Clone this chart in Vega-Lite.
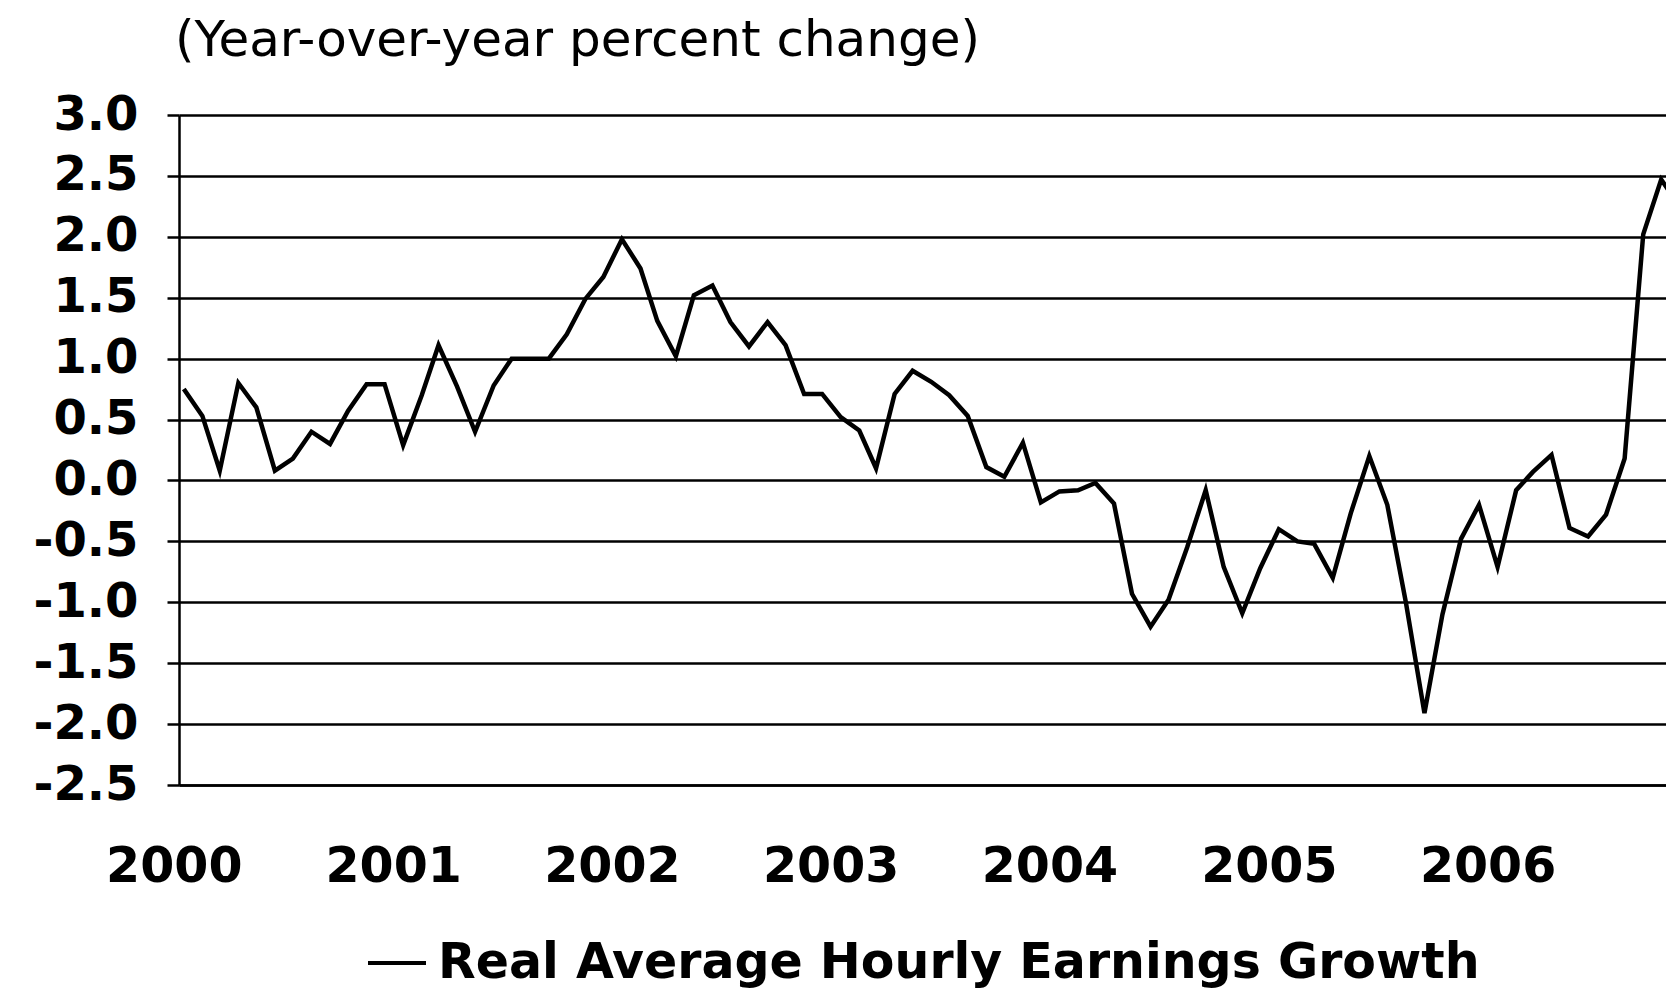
{
  "$schema": "https://vega.github.io/schema/vega-lite/v6.json",
  "width": 1487,
  "height": 670,
  "autosize": {"type": "none"},
  "padding": {"left": 179, "top": 115, "right": 0, "bottom": 204},
  "background": "white",
  "title": {
    "text": "(Year-over-year percent change)",
    "anchor": "start",
    "frame": "group",
    "font": "DejaVu Sans",
    "fontSize": 50,
    "fontWeight": "normal",
    "color": "black",
    "baseline": "alphabetic",
    "offset": -15,
    "dx": -4
  },
  "config": {
    "view": {"stroke": null},
    "font": "DejaVu Sans",
    "legend": {"layout": {"anchor": "middle", "bottom": {"anchor": "middle"}}}
  },
  "data": {
    "values": [
      {"date": "2000-01-01", "value": 0.75},
      {"date": "2000-02-01", "value": 0.53},
      {"date": "2000-03-01", "value": 0.08},
      {"date": "2000-04-01", "value": 0.80},
      {"date": "2000-05-01", "value": 0.60},
      {"date": "2000-06-01", "value": 0.08},
      {"date": "2000-07-01", "value": 0.18},
      {"date": "2000-08-01", "value": 0.40},
      {"date": "2000-09-01", "value": 0.30},
      {"date": "2000-10-01", "value": 0.57},
      {"date": "2000-11-01", "value": 0.79},
      {"date": "2000-12-01", "value": 0.79},
      {"date": "2001-01-01", "value": 0.29},
      {"date": "2001-02-01", "value": 0.70},
      {"date": "2001-03-01", "value": 1.11},
      {"date": "2001-04-01", "value": 0.77},
      {"date": "2001-05-01", "value": 0.40},
      {"date": "2001-06-01", "value": 0.78},
      {"date": "2001-07-01", "value": 1.00},
      {"date": "2001-08-01", "value": 1.00},
      {"date": "2001-09-01", "value": 1.00},
      {"date": "2001-10-01", "value": 1.20},
      {"date": "2001-11-01", "value": 1.49},
      {"date": "2001-12-01", "value": 1.67},
      {"date": "2002-01-01", "value": 1.98},
      {"date": "2002-02-01", "value": 1.74},
      {"date": "2002-03-01", "value": 1.31},
      {"date": "2002-04-01", "value": 1.02},
      {"date": "2002-05-01", "value": 1.52},
      {"date": "2002-06-01", "value": 1.60},
      {"date": "2002-07-01", "value": 1.30},
      {"date": "2002-08-01", "value": 1.10},
      {"date": "2002-09-01", "value": 1.30},
      {"date": "2002-10-01", "value": 1.11},
      {"date": "2002-11-01", "value": 0.71},
      {"date": "2002-12-01", "value": 0.71},
      {"date": "2003-01-01", "value": 0.52},
      {"date": "2003-02-01", "value": 0.41},
      {"date": "2003-03-01", "value": 0.10},
      {"date": "2003-04-01", "value": 0.71},
      {"date": "2003-05-01", "value": 0.90},
      {"date": "2003-06-01", "value": 0.81},
      {"date": "2003-07-01", "value": 0.70},
      {"date": "2003-08-01", "value": 0.53},
      {"date": "2003-09-01", "value": 0.11},
      {"date": "2003-10-01", "value": 0.03},
      {"date": "2003-11-01", "value": 0.31},
      {"date": "2003-12-01", "value": -0.18},
      {"date": "2004-01-01", "value": -0.09},
      {"date": "2004-02-01", "value": -0.08},
      {"date": "2004-03-01", "value": -0.02},
      {"date": "2004-04-01", "value": -0.19},
      {"date": "2004-05-01", "value": -0.93},
      {"date": "2004-06-01", "value": -1.20},
      {"date": "2004-07-01", "value": -0.98},
      {"date": "2004-08-01", "value": -0.55},
      {"date": "2004-09-01", "value": -0.08},
      {"date": "2004-10-01", "value": -0.71},
      {"date": "2004-11-01", "value": -1.09},
      {"date": "2004-12-01", "value": -0.72},
      {"date": "2005-01-01", "value": -0.40},
      {"date": "2005-02-01", "value": -0.50},
      {"date": "2005-03-01", "value": -0.52},
      {"date": "2005-04-01", "value": -0.80},
      {"date": "2005-05-01", "value": -0.27},
      {"date": "2005-06-01", "value": 0.20},
      {"date": "2005-07-01", "value": -0.20},
      {"date": "2005-08-01", "value": -1.00},
      {"date": "2005-09-01", "value": -1.91},
      {"date": "2005-10-01", "value": -1.10},
      {"date": "2005-11-01", "value": -0.48},
      {"date": "2005-12-01", "value": -0.20},
      {"date": "2006-01-01", "value": -0.71},
      {"date": "2006-02-01", "value": -0.08},
      {"date": "2006-03-01", "value": 0.07},
      {"date": "2006-04-01", "value": 0.21},
      {"date": "2006-05-01", "value": -0.39},
      {"date": "2006-06-01", "value": -0.46},
      {"date": "2006-07-01", "value": -0.28},
      {"date": "2006-08-01", "value": 0.18},
      {"date": "2006-09-01", "value": 2.02},
      {"date": "2006-10-01", "value": 2.47},
      {"date": "2006-11-01", "value": 2.25}
    ]
  },
  "mark": {"type": "line", "stroke": "black", "strokeWidth": 4.5, "clip": true},
  "encoding": {
    "x": {
      "field": "date",
      "type": "temporal",
      "scale": {
        "type": "utc",
        "domain": [
          {"year": 1999, "month": 12, "date": 24, "utc": true},
          {"year": 2006, "month": 10, "date": 9, "utc": true}
        ]
      },
      "axis": {
        "title": null,
        "values": [
          {"year": 2000, "month": 1, "date": 1, "utc": true},
          {"year": 2001, "month": 1, "date": 1, "utc": true},
          {"year": 2002, "month": 1, "date": 1, "utc": true},
          {"year": 2003, "month": 1, "date": 1, "utc": true},
          {"year": 2004, "month": 1, "date": 1, "utc": true},
          {"year": 2005, "month": 1, "date": 1, "utc": true},
          {"year": 2006, "month": 1, "date": 1, "utc": true}
        ],
        "format": "%Y",
        "formatType": "utc",
        "grid": false,
        "ticks": false,
        "domain": true,
        "domainColor": "black",
        "domainWidth": 2.5,
        "labelFont": "DejaVu Sans",
        "labelFontSize": 49,
        "labelFontWeight": "bold",
        "labelColor": "black",
        "labelPadding": 57,
        "labelOffset": -10,
        "labelOverlap": false,
        "labelBound": false,
        "labelFlush": false
      }
    },
    "y": {
      "field": "value",
      "type": "quantitative",
      "scale": {"domain": [-2.5, 3.0], "nice": false, "zero": false},
      "axis": {
        "title": null,
        "values": [-2.5, -2.0, -1.5, -1.0, -0.5, 0, 0.5, 1.0, 1.5, 2.0, 2.5, 3.0],
        "format": ".1f",
        "labelExpr": "replace(datum.label, '\u2212', '-')",
        "grid": true,
        "gridColor": "black",
        "gridWidth": 2.5,
        "gridOpacity": 1,
        "domain": true,
        "domainColor": "black",
        "domainWidth": 2.5,
        "ticks": true,
        "tickColor": "black",
        "tickSize": 12,
        "tickWidth": 2.5,
        "labelFont": "DejaVu Sans",
        "labelFontSize": 48,
        "labelFontWeight": "bold",
        "labelColor": "black",
        "labelPadding": 29,
        "labelOverlap": false,
        "labelBound": false,
        "labelFlush": false
      }
    },
    "color": {
      "datum": "Real Average Hourly Earnings Growth",
      "type": "nominal",
      "scale": {"range": ["black"]},
      "legend": {
        "title": null,
        "orient": "bottom",
        "direction": "horizontal",
        "offset": 41,
        "symbolType": "stroke",
        "symbolSize": 3364,
        "symbolStrokeWidth": 4,
        "symbolStrokeColor": "black",
        "labelFont": "DejaVu Sans",
        "labelFontSize": 49,
        "labelFontWeight": "bold",
        "labelColor": "black",
        "labelLimit": 2000,
        "labelOffset": 10
      }
    }
  }
}
